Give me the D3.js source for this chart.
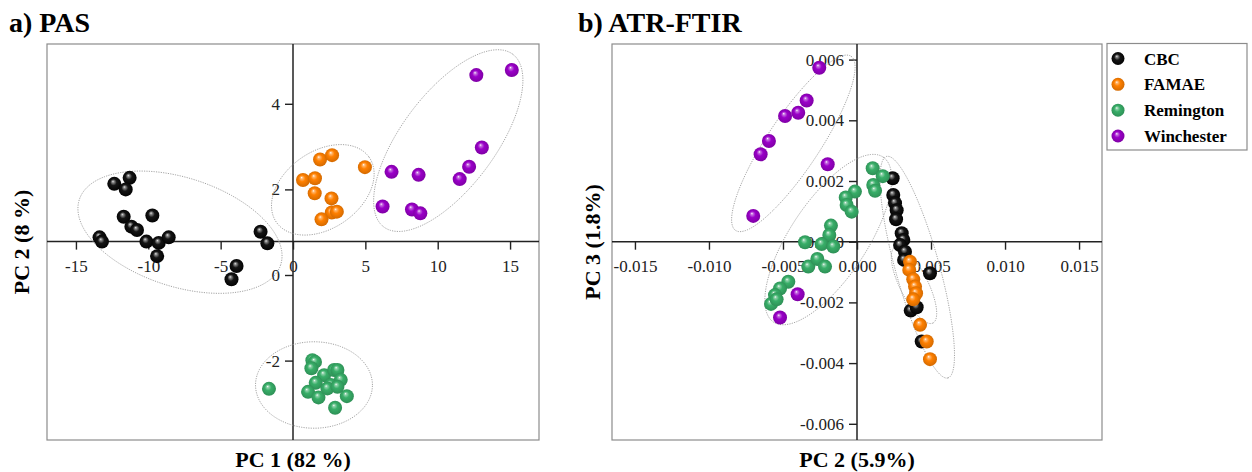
<!DOCTYPE html>
<html>
<head>
<meta charset="utf-8">
<script src="https://cdn.jsdelivr.net/npm/d3@7"></script>
<style>
  body { margin: 0; background: #fff; }
  svg { display: block; font-family: "Liberation Serif", "Times New Roman", serif; }
</style>
</head>
<body>
<svg id="chart" width="1252" height="472"></svg>
<script>
var groups = ["CBC", "FAMAE", "Remington", "Winchester"];
var colors = ["#000000", "#ff8000", "#38ae68", "#9a00c8"];

// a) PAS scores: [PC 1, PC 2]
var pasCBC = [[-12.35,2.13],[-11.29,2.27],[-11.56,2.00],[-11.70,1.36],[-9.72,1.39],[-11.17,1.13],[-10.78,1.05],
  [-13.37,0.88],[-13.20,0.78],[-10.13,0.78],[-9.28,0.75],[-8.59,0.88],[-9.39,0.44],[-2.24,1.01],[-1.77,0.74],
  [-3.90,0.21],[-4.25,-0.10]];
var pasFAMAE = [[1.87,2.70],[2.70,2.80],[4.97,2.52],[0.69,2.22],[1.52,2.26],[1.50,1.91],[2.66,1.79],[2.68,1.46],
  [3.03,1.48],[1.97,1.30]];
var pasRemington = [[-1.66,-2.66],[1.34,-1.99],[1.52,-2.03],[1.27,-2.18],[2.15,-2.34],[2.84,-2.22],[3.07,-2.22],
  [1.57,-2.52],[3.30,-2.45],[2.61,-2.57],[1.04,-2.73],[1.76,-2.86],[3.72,-2.83],[2.91,-3.10],[2.38,-2.65],[3.07,-2.61]];
var pasWinchester = [[12.67,4.67],[15.12,4.79],[13.05,2.98],[12.17,2.53],[11.52,2.24],[6.81,2.41],[8.68,2.34],
  [6.19,1.60],[8.22,1.53],[8.80,1.44]];
// confidence ellipses: centre and two semi-axis vectors, data units
var pasEllipses = [
  {c: [-7.81, 1.00], u: [6.96, -0.76], v: [-1.15, -1.21]},
  {c: [2.06, 1.99], u: [3.20, 0.762], v: [1.53, -0.733]},
  {c: [1.45, -2.57], u: [4.04, 0], v: [0, 1.01]},
  {c: [10.73, 3.14], u: [4.45, 2.02], v: [2.61, -0.654]}
];

// b) ATR-FTIR scores: [PC 2, PC 3]
var ftirCBC = [[0.00241,0.00209],[0.00245,0.00154],[0.00257,0.00127],[0.00268,0.00104],[0.00264,0.00074],
  [0.00302,0.00028],[0.00313,0.00006],[0.00291,-0.00011],[0.00324,-0.00033],[0.00318,-0.00060],[0.00493,-0.00104],
  [0.00363,-0.00227],[0.00403,-0.00216],[0.00437,-0.00329]];
var ftirFAMAE = [[0.00358,-0.00066],[0.00353,-0.00093],[0.00380,-0.00124],[0.00392,-0.00148],[0.00399,-0.00170],
  [0.00380,-0.00190],[0.00426,-0.00274],[0.00471,-0.00329],[0.00493,-0.00387]];
var ftirRemington = [[0.00106,0.00242],[0.00174,0.00216],[0.00110,0.00187],[0.00122,0.00168],[-0.00014,0.00165],
  [-0.00076,0.00146],[-0.00070,0.00121],[-0.00036,0.00099],[-0.00176,0.00053],[-0.00187,0.00022],[-0.00351,-0.00002],
  [-0.00239,-0.00008],[-0.00160,-0.00016],[-0.00329,-0.00082],[-0.00268,-0.00057],[-0.00216,-0.00082],
  [-0.00464,-0.00132],[-0.00520,-0.00154],[-0.00554,-0.00176],[-0.00581,-0.00205],[-0.00543,-0.00190]];
var ftirWinchester = [[-0.00255,0.00573],[-0.00340,0.00465],[-0.00397,0.00425],[-0.00486,0.00414],[-0.00595,0.00332],
  [-0.00651,0.00288],[-0.00198,0.00255],[-0.00701,0.00085],[-0.00401,-0.00173],[-0.00520,-0.00250]];
var ftirEllipses = [
  {c: [0.00407, -0.00084], u: [0.00207, -0.00365], v: [-0.00143, -0.00019]},
  {c: [0.00385, -0.00143], u: [0.00128, -0.00125], v: [-0.000845, -0.00021]},
  {c: [-0.00194, 0.00007], u: [0.00370, 0.00272], v: [0.00216, -0.000696]},
  {c: [-0.00430, 0.00324], u: [0.00390, 0.00287], v: [0.00148, -0.000477]}
];

var pasTicksX = [-15, -10, -5, 0, 5, 10, 15];
var pasTicksY = [-2, 0, 2, 4];
var ftirTicksX = [-0.015, -0.010, -0.005, 0, 0.005, 0.010, 0.015];
var ftirTicksY = [-0.006, -0.004, -0.002, 0, 0.002, 0.004, 0.006];

var svg = d3.select("#chart");
var defs = svg.append("defs");

// shaded balls
colors.forEach(function(c, i) {
  var g = defs.append("radialGradient").attr("id", "ball" + i)
    .attr("cx", "50%").attr("cy", "50%").attr("r", "55%")
    .attr("fx", "40%").attr("fy", "32%");
  var base = d3.color(c);
  var hi = i == 0 ? "#e6e6e6" : "#ffffff";
  g.append("stop").attr("offset", "0%").attr("stop-color", hi);
  g.append("stop").attr("offset", "14%").attr("stop-color", i == 0 ? "#8a8a8a" : d3.interpolateRgb(c, "#fff")(0.45));
  g.append("stop").attr("offset", "42%").attr("stop-color", i == 0 ? "#151515" : c);
  g.append("stop").attr("offset", "100%").attr("stop-color", i == 0 ? "#000" : base.darker(0.6));
});

var fmt3 = function(d) { return d3.format(".3f")(d).replace("\u2212", "-"); };
var fmt0 = function(d) { return d3.format("d")(d).replace("\u2212", "-"); };

function panel(cfg) {
  var x = d3.scaleLinear().domain(cfg.xDomain).range([cfg.left, cfg.right]);
  var y = d3.scaleLinear().domain(cfg.yDomain).range([cfg.bottom, cfg.top]);
  var g = svg.append("g");

  g.append("rect")
    .attr("x", cfg.left).attr("y", cfg.top)
    .attr("width", cfg.right - cfg.left).attr("height", cfg.bottom - cfg.top)
    .attr("fill", "none").attr("stroke", "#8c8c8c").attr("stroke-width", 1.2);

  // x axis crossing at cfg.xAxisAt
  var xa = g.append("g").attr("transform", "translate(0," + y(cfg.xAxisAt) + ")")
    .call(d3.axisBottom(x).tickValues(cfg.ticksX).tickSize(8).tickSizeOuter(0).tickFormat(cfg.fmt).tickPadding(10));
  var ya = g.append("g").attr("transform", "translate(" + x(0) + ",0)")
    .call(d3.axisLeft(y).tickValues(cfg.ticksY).tickSize(8).tickSizeOuter(0).tickFormat(cfg.fmt).tickPadding(5));
  [xa, ya].forEach(function(a) {
    a.select(".domain").remove();
    a.selectAll("line").attr("stroke", "#222").attr("stroke-width", 1.4);
    a.selectAll("text").attr("font-family", "Liberation Serif, serif").attr("font-size", 17).attr("fill", "#222");
  });
  g.append("line").attr("x1", cfg.left).attr("x2", cfg.right)
    .attr("y1", y(cfg.xAxisAt)).attr("y2", y(cfg.xAxisAt))
    .attr("stroke", "#222").attr("stroke-width", 1.5);
  g.append("line").attr("x1", x(0)).attr("x2", x(0))
    .attr("y1", cfg.top).attr("y2", cfg.bottom)
    .attr("stroke", "#222").attr("stroke-width", 1.5);

  // ellipses
  var line = d3.line().curve(d3.curveLinearClosed);
  cfg.ellipses.forEach(function(e) {
    var pts = d3.range(0, 120).map(function(k) {
      var t = k / 120 * 2 * Math.PI;
      return [x(e.c[0] + e.u[0] * Math.cos(t) + e.v[0] * Math.sin(t)),
              y(e.c[1] + e.u[1] * Math.cos(t) + e.v[1] * Math.sin(t))];
    });
    g.append("path").attr("d", line(pts))
      .attr("fill", "none").attr("stroke", "#9a9a9a")
      .attr("stroke-width", 0.9).attr("stroke-dasharray", "1.2,1.2");
  });

  // points
  cfg.series.forEach(function(s, i) {
    g.append("g").selectAll("circle").data(s).enter().append("circle")
      .attr("cx", function(d) { return x(d[0]); })
      .attr("cy", function(d) { return y(d[1]); })
      .attr("r", 7)
      .attr("fill", "url(#ball" + i + ")");
  });

  // titles
  svg.append("text").attr("x", cfg.titleX).attr("y", 32)
    .attr("font-size", 28).attr("font-weight", "bold").text(cfg.title);
  svg.append("text").attr("x", (cfg.left + cfg.right) / 2).attr("y", 467)
    .attr("text-anchor", "middle").attr("font-size", 22).attr("font-weight", "bold").text(cfg.xLabel);
  svg.append("text")
    .attr("transform", "translate(" + cfg.yLabelX + "," + (cfg.top + cfg.bottom) / 2 + ") rotate(-90)")
    .attr("text-anchor", "middle").attr("font-size", 22).attr("font-weight", "bold").text(cfg.yLabel);
}

panel({
  left: 47, right: 539, top: 44, bottom: 440,
  xDomain: [-17, 17], yDomain: [-3.855, 5.397], xAxisAt: 0.78,
  ticksX: pasTicksX, ticksY: pasTicksY, fmt: fmt0,
  ellipses: pasEllipses,
  series: [pasCBC, pasFAMAE, pasRemington, pasWinchester],
  title: "a) PAS", titleX: 9, xLabel: "PC 1 (82 %)", yLabel: "PC 2 (8 %)", yLabelX: 29
});

panel({
  left: 612, right: 1102, top: 44, bottom: 440,
  xDomain: [-0.01655, 0.01655], yDomain: [-0.006534, 0.006514], xAxisAt: 0,
  ticksX: ftirTicksX, ticksY: ftirTicksY, fmt: fmt3,
  ellipses: ftirEllipses,
  series: [ftirCBC, ftirFAMAE, ftirRemington, ftirWinchester],
  title: "b) ATR-FTIR", titleX: 578, xLabel: "PC 2 (5.9%)", yLabel: "PC 3 (1.8%)", yLabelX: 600
});

// legend
var lg = svg.append("g");
lg.append("rect").attr("x", 1107).attr("y", 43.5).attr("width", 140).attr("height", 106.5)
  .attr("fill", "#fff").attr("stroke", "#8c8c8c").attr("stroke-width", 1.2);
var ly = d3.scalePoint().domain(groups).range([58.5, 136]);
groups.forEach(function(name, i) {
  lg.append("circle").attr("cx", 1118).attr("cy", ly(name)).attr("r", 6.5).attr("fill", "url(#ball" + i + ")");
  lg.append("text").attr("x", 1144).attr("y", ly(name) + 6)
    .attr("font-size", 17).attr("font-weight", "bold").text(name);
});
</script>
</body>
</html>
